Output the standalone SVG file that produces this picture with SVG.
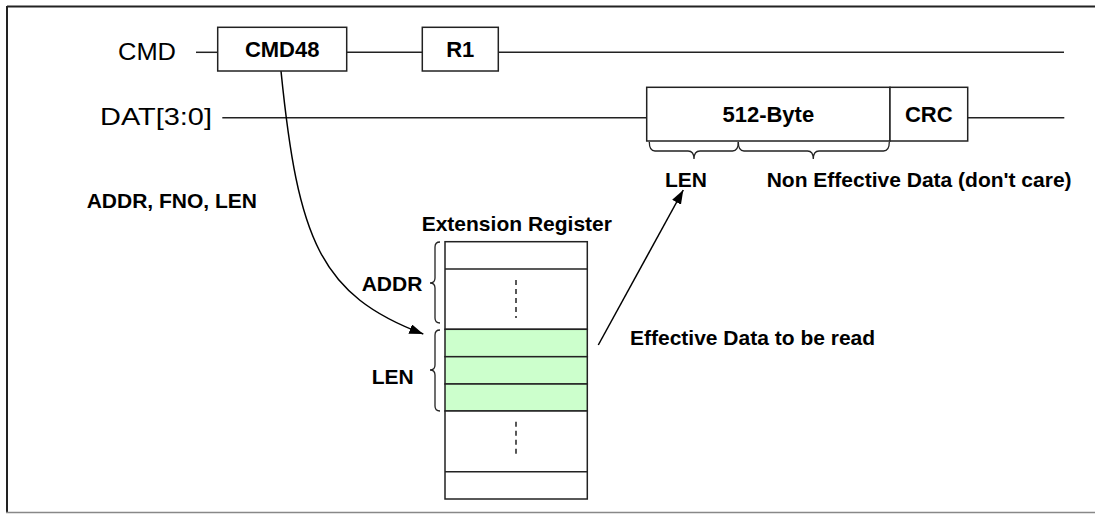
<svg xmlns="http://www.w3.org/2000/svg" width="1095" height="514" viewBox="0 0 1095 514">
<style>
.ln{stroke:#222;stroke-width:1.5;fill:none}
.box{fill:#fff;stroke:#222;stroke-width:1.5}
.g{fill:#ccffcc;stroke:#222;stroke-width:1.5}
.dash{stroke:#222;stroke-width:1.5;stroke-dasharray:5 4;fill:none}
.br{stroke:#222;stroke-width:1.3;fill:none}
.reg{font-family:"Liberation Sans",Arial,sans-serif;font-size:24px;fill:#000}
.b{font-family:"Liberation Sans",Arial,sans-serif;font-size:21px;font-weight:bold;fill:#000}
.bb{font-family:"Liberation Sans",Arial,sans-serif;font-size:22px;font-weight:bold;fill:#000}
.arr{stroke:#000;stroke-width:1.5;fill:none}
</style>
<defs>
<marker id="ah" viewBox="0 0 14 10" refX="14" refY="5" markerWidth="14" markerHeight="10" markerUnits="userSpaceOnUse" orient="auto">
<path d="M0,0 L14,5 L0,10 Z" fill="#000"/>
</marker>
</defs>
<g id="frame">
<line x1="7" y1="6.5" x2="1095" y2="6.5" stroke="#222" stroke-width="2"/>
<line x1="7" y1="6" x2="7" y2="512" stroke="#222" stroke-width="2"/>
<line x1="6" y1="512.5" x2="1095" y2="512.5" stroke="#888" stroke-width="1.5"/>
</g>
<g id="connectors">
<line class="ln" x1="196" y1="52.3" x2="217.7" y2="52.3"/>
<line class="ln" x1="346.7" y1="52.3" x2="422.3" y2="52.3"/>
<line class="ln" x1="498.3" y1="52.3" x2="1064" y2="52.3"/>
<line class="ln" x1="222.3" y1="117.7" x2="646.7" y2="117.7"/>
<line class="ln" x1="967.7" y1="117.7" x2="1064.3" y2="117.7"/>
<path class="arr" d="M281,71 C298,240 320,295 423.3,334" marker-end="url(#ah)"/>
<line class="arr" x1="598.3" y1="345" x2="683.3" y2="190" marker-end="url(#ah)"/>
</g>
<g id="label-cmd"><text class="reg" x="118" y="59.5" textLength="58" lengthAdjust="spacingAndGlyphs">CMD</text></g>
<g id="label-dat"><text class="reg" x="100" y="125" textLength="112" lengthAdjust="spacingAndGlyphs">DAT[3:0]</text></g>
<g id="cmd48">
<rect class="box" x="217.7" y="27.3" width="129" height="43.7"/>
<text class="bb" x="282.2" y="57" text-anchor="middle">CMD48</text>
</g>
<g id="r1">
<rect class="box" x="422.3" y="27.3" width="76" height="43.7"/>
<text class="bb" x="460.3" y="57" text-anchor="middle">R1</text>
</g>
<g id="data512">
<rect class="box" x="646.7" y="87.3" width="243.3" height="53.7"/>
<text class="bb" x="768.3" y="122" text-anchor="middle">512-Byte</text>
</g>
<g id="crc">
<rect class="box" x="890" y="87.3" width="77.7" height="53.7"/>
<text class="bb" x="928.8" y="122" text-anchor="middle">CRC</text>
</g>
<g id="braces-data">
<path class="br" d="M649.3,142 Q649.3,151 655,151 L688,151 Q694,151 694,159 Q694,151 700,151 L732.5,151 Q738.3,151 738.3,142"/>
<path class="br" d="M738.3,142 Q738.3,151 744,151 L807.5,151 Q813.3,151 813.3,159 Q813.3,151 819,151 L883.5,151 Q889.3,151 889.3,142"/>
<text class="b" x="665" y="186.7">LEN</text>
<text class="b" x="766.7" y="186.7">Non Effective Data (don't care)</text>
</g>
<g id="label-addr-fno-len"><text class="b" x="86.7" y="208.3">ADDR, FNO, LEN</text></g>
<g id="ext-register">
<text class="b" x="421.7" y="230.7">Extension Register</text>
<rect class="box" x="445" y="241.7" width="142.3" height="87.6"/>
<line class="ln" x1="445" y1="269" x2="587.3" y2="269"/>
<line class="dash" x1="516" y1="280" x2="516" y2="318"/>
<rect class="g" x="445" y="329.3" width="142.3" height="27.4"/>
<rect class="g" x="445" y="356.7" width="142.3" height="27.3"/>
<rect class="g" x="445" y="384" width="142.3" height="27"/>
<rect class="box" x="445" y="411" width="142.3" height="88"/>
<line class="ln" x1="445" y1="471.7" x2="587.3" y2="471.7"/>
<line class="dash" x1="516" y1="421.7" x2="516" y2="457"/>
</g>
<g id="brace-addr">
<path class="br" d="M440,242 Q435,242 435,247 L435,278 Q435,283 430,283 Q435,283 435,288 L435,318 Q435,323 440,323"/>
<text class="b" x="361.7" y="290.7">ADDR</text>
</g>
<g id="brace-len">
<path class="br" d="M440,330 Q435,330 435,335 L435,365 Q435,370 430,370 Q435,370 435,375 L435,406 Q435,411 440,411"/>
<text class="b" x="371.7" y="384">LEN</text>
</g>
<g id="label-effective"><text class="b" x="630" y="345">Effective Data to be read</text></g>
</svg>
